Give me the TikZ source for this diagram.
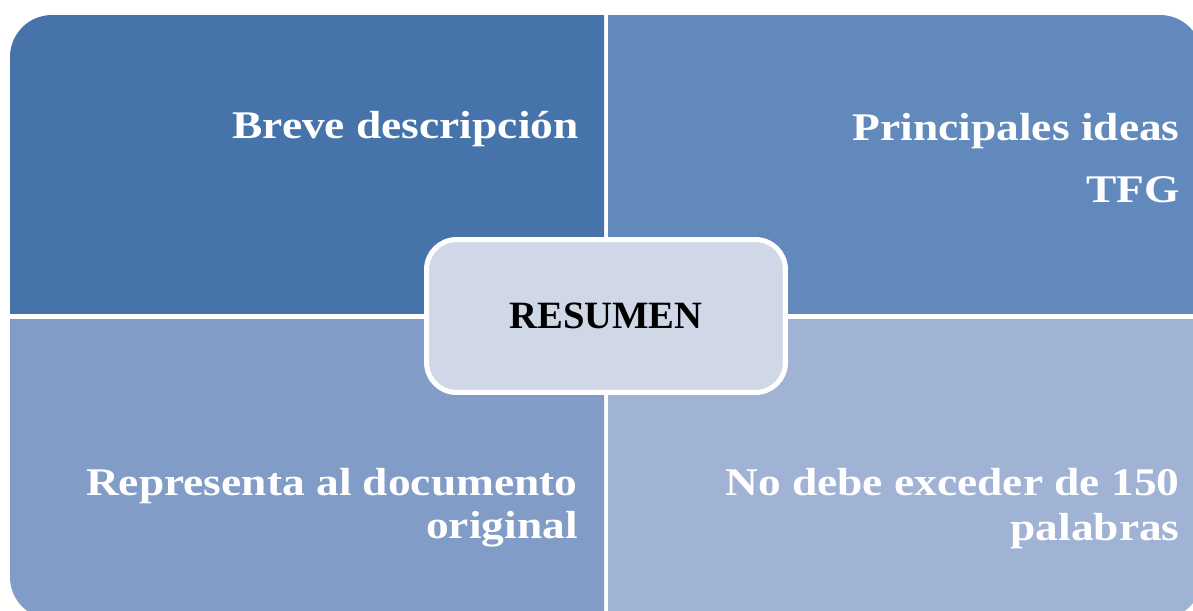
\documentclass[tikz,border=0pt]{standalone}
\usepackage{fontspec}
\setmainfont{Liberation Serif}
\newfontfamily\widefont[FakeStretch=1.16]{Liberation Serif}
\usepackage{tikz}
\usetikzlibrary{positioning}
\definecolor{quadA}{RGB}{70,115,170}
\definecolor{quadB}{RGB}{98,137,188}
\definecolor{quadC}{RGB}{128,156,199}
\definecolor{quadD}{RGB}{161,179,212}
\definecolor{centrefill}{RGB}{208,216,232}
\tikzstyle{quadtext}=[anchor=base east,inner sep=0pt,text=white,font=\widefont\fontsize{22.3}{26}\selectfont\bfseries]
\tikzstyle{centrebox}=[rectangle,rounded corners=0.6cm,fill=centrefill,draw=white,line width=0.1cm,minimum width=7.18cm,minimum height=3.06cm,inner sep=0pt,font=\fontsize{22}{26}\selectfont\bfseries]

\begin{document}
\begin{tikzpicture}[x=0.02cm,y=-0.02cm]
\useasboundingbox (0,0) rectangle (1193,610);

%quadrants
    \foreach \xa/\ya/\xb/\yb/\col in {10/10/604/313/quadA, 608/10/1210/313/quadB, 10/319/604/630/quadC, 608/319/1210/630/quadD}
    {
        \begin{scope}
            \clip (\xa,\ya) rectangle (\xb,\yb);
            \fill[\col, rounded corners=0.84cm] (10,15) rectangle (1202,619);
        \end{scope}
    }

%labels
    \foreach \pos/\name/\txt in {{(579,138)/breve/Breve descripción}, {(1180,140)/ideas/Principales ideas}, {(1180,202)/tfg/TFG}, {(578,495)/representa/Representa al documento}, {(578,538)/original/original}, {(1180,495)/exceder/No debe exceder de 150}, {(1180,540)/palabras/palabras}}
        \node[quadtext] (\name) at \pos {\txt};

    \node[centrebox] (resumen) at (606,316) {RESUMEN};

\end{tikzpicture}
\end{document}
